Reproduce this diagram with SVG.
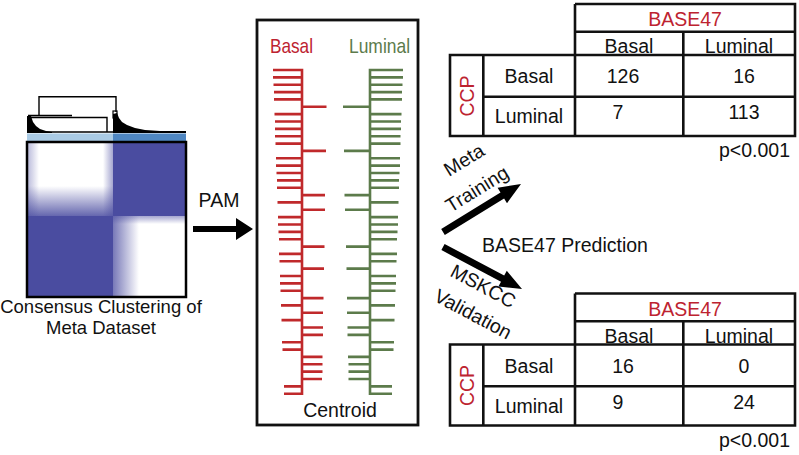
<svg xmlns="http://www.w3.org/2000/svg" width="799" height="455" viewBox="0 0 799 455">
<style>
text{font-family:"Liberation Sans",Arial,sans-serif;fill:#111}
.t{font-size:19.5px;text-anchor:middle}
.red{fill:#bd2330}
.grid{fill:none;stroke:#111;stroke-width:2.6}
.lad-r{fill:none;stroke:#c0292b;stroke-width:2.6}
.lad-g{fill:none;stroke:#5c7b4b;stroke-width:2.6}
.arrow{fill:#000}
.dend{fill:none;stroke:#000;stroke-width:1.4}
</style>
<defs>
<linearGradient id="fadeDown" x1="0" y1="0" x2="0" y2="1"><stop offset="0" stop-color="#4a4ca0" stop-opacity="0"/><stop offset="1" stop-color="#4a4ca0" stop-opacity="0.85"/></linearGradient>
<linearGradient id="fadeRight" x1="0" y1="0" x2="1" y2="0"><stop offset="0" stop-color="#4a4ca0" stop-opacity="0"/><stop offset="1" stop-color="#4a4ca0" stop-opacity="0.5"/></linearGradient>
<linearGradient id="fadeLeft" x1="0" y1="0" x2="1" y2="0"><stop offset="0" stop-color="#4a4ca0" stop-opacity="0.4"/><stop offset="1" stop-color="#4a4ca0" stop-opacity="0"/></linearGradient>
<linearGradient id="fadeLeftStrong" x1="0" y1="0" x2="1" y2="0"><stop offset="0" stop-color="#4a4ca0" stop-opacity="0.75"/><stop offset="1" stop-color="#4a4ca0" stop-opacity="0"/></linearGradient>
<linearGradient id="fadeTop" x1="0" y1="0" x2="0" y2="1"><stop offset="0" stop-color="#4a4ca0" stop-opacity="0.5"/><stop offset="1" stop-color="#4a4ca0" stop-opacity="0"/></linearGradient>
</defs>
<rect width="799" height="455" fill="#fff"/>

<g id="heatmap">
<path class="dend" d="M39 116V96.7H116V112"/>
<path class="dend" d="M28 117.5H107V132M28 115.5H72M27 132H186"/>
<rect x="113" y="111" width="4" height="7" fill="none" stroke="#000" stroke-width="1.2"/>
<path fill="#000" d="M27 133L27 116L31 116L33 122L36 126L40 129L46 131L52 132L52 133Z"/>
<path fill="#000" d="M113 133L113 114L117 113L119 118L122 122L127 125L135 128L145 130L160 131L186 131L186 133Z"/>
<rect x="27" y="133.5" width="86" height="7.5" fill="#aacbe5"/>
<rect x="113" y="133.5" width="73" height="7.5" fill="#4f87c2"/>
<rect x="27" y="142" width="159" height="155" fill="#4a4ca0"/>
<rect x="27" y="142" width="86" height="74" fill="#fff"/>
<rect x="27" y="186" width="86" height="30" fill="url(#fadeDown)"/>
<rect x="27" y="142" width="12" height="74" fill="url(#fadeLeft)"/>
<rect x="103" y="142" width="10" height="74" fill="url(#fadeRight)"/>
<rect x="113" y="216" width="73" height="81" fill="#fff"/>
<rect x="113" y="216" width="26" height="81" fill="url(#fadeLeftStrong)"/>
<rect x="113" y="216" width="73" height="8" fill="url(#fadeTop)"/>
<rect x="27" y="142" width="159" height="155" fill="none" stroke="#000" stroke-width="2.5"/>
<text class="t" x="101" y="313" font-size="18.5px" style="font-size:18.5px">Consensus Clustering of</text>
<text class="t" x="101" y="334" style="font-size:18.5px">Meta Dataset</text>
</g>

<g id="pam-label">
<text class="t" x="219" y="207">PAM</text>
</g>

<g id="centroid">
<rect x="257" y="20" width="161" height="405" fill="none" stroke="#111" stroke-width="2.8"/>
<text x="270" y="53" font-size="21" textLength="43" lengthAdjust="spacingAndGlyphs" class="red" style="fill:#bd2330">Basal</text>
<text x="349" y="53" font-size="21" textLength="61" lengthAdjust="spacingAndGlyphs" style="fill:#5c7b4b">Luminal</text>
<path class="lad-r" d="M302 68.7V395M273 70H302M273 77.4H302M273.5 84.7H302M274 92.1H302M274 99.4H302M302 106.8H326.5M274.5 114.1H302M275 121.5H302M275 128.9H302M275 136.2H302M275.5 143.6H302M302 150.9H326M276 158.3H302M276 165.6H302M276.5 173H302M277 180.4H302M277 187.7H302M302 195.1H325M277.5 202.4H302M302 209.8H325M278 217.1H302M278 224.5H302M278.5 231.9H302M279 239.2H302M302 246.6H324.5M279 253.9H302M279.5 261.3H302M302 268.6H324M280 276H302M280 283.4H302M280.5 290.7H302M302 298.1H323.5M281 305.4H302M302 312.8H323M281.5 320.1H302M302 327.5H323M302 334.9H323M282 342.2H302M282.5 349.6H302M302 356.9H322.5M302 364.3H322.5M302 371.6H322.5M302 379H322M284 386.4H302M284 393.7H302"/>
<path class="lad-g" d="M370 68.7V395M370 70H403M370 77.4H403M370 84.7H402.5M370 92.1H402M370 99.4H402M343 106.8H370M370 114.1H401.5M370 121.5H401M370 128.9H401M370 136.2H400.5M370 143.6H400.5M344 150.9H370M370 158.3H400M370 165.6H400M370 173H399.5M370 180.4H399M370 187.7H399M344.5 195.1H370M370 202.4H398.5M345 209.8H370M370 217.1H398M370 224.5H398M370 231.9H397.5M370 239.2H397M346 246.6H370M370 253.9H397M370 261.3H396.5M346.5 268.6H370M370 276H396M370 283.4H396M370 290.7H395.5M347 298.1H370M370 305.4H395M347 312.8H370M370 320.1H394.5M347.5 327.5H370M347.5 334.9H370M370 342.2H394M370 349.6H393.5M348 356.9H370M348.5 364.3H370M348.5 371.6H370M348.5 379H370M370 386.4H392M370 393.7H392"/>
<text class="t" x="340" y="417">Centroid</text>
</g>

<g id="table-meta">
<path class="grid" d="M575 4H795V136H450V55H795M575 4V55M575 31.7H795M683.3 31.7V136M483.3 55V136M575 55V136M483.3 96.7H795"/>
<text class="t red" x="685" y="26">BASE47</text>
<text class="t" x="629" y="53">Basal</text>
<text class="t" x="739" y="53">Luminal</text>
<text class="t red" transform="translate(473.5,96) rotate(-90)">CCP</text>
<text class="t" x="529" y="83">Basal</text>
<text class="t" x="623" y="83">126</text>
<text class="t" x="744" y="83">16</text>
<text class="t" x="529" y="123">Luminal</text>
<text class="t" x="618" y="119">7</text>
<text class="t" x="744" y="119">113</text>
<text x="790" y="157" font-size="19.5" text-anchor="end">p&lt;0.001</text>
</g>

<g id="table-mskcc">
<path class="grid" d="M575 293.5H795V425.5H450V344.5H795M575 293.5V344.5M575 321.2H795M683.3 321.2V425.5M483.3 344.5V425.5M575 344.5V425.5M483.3 386.2H795"/>
<text class="t red" x="685" y="315.5">BASE47</text>
<text class="t" x="629" y="342.5">Basal</text>
<text class="t" x="739" y="342.5">Luminal</text>
<text class="t red" transform="translate(473.5,385.5) rotate(-90)">CCP</text>
<text class="t" x="529" y="372.5">Basal</text>
<text class="t" x="623" y="372.5">16</text>
<text class="t" x="744" y="372.5">0</text>
<text class="t" x="529" y="412.5">Luminal</text>
<text class="t" x="618" y="408.5">9</text>
<text class="t" x="744" y="408.5">24</text>
<text x="790" y="446.5" font-size="19.5" text-anchor="end">p&lt;0.001</text>
</g>

<g id="connectors">
<polygon class="arrow" points="193,226 236,226 236,218 253,229 236,240 236,232 193,232"/>
<polygon class="arrow" points="441.2,229 500.5,192.5 497.6,187.8 521,184 507,203.2 504.1,198.5 444.8,235"/>
<polygon class="arrow" points="444.6,243.9 504.2,275.6 506.8,270.8 522,289 498.4,286.6 501,281.8 441.4,250.1"/>
<text class="t" transform="translate(467.5,165.7) rotate(-31.6)">Meta</text>
<text class="t" transform="translate(480.5,194.7) rotate(-31.6)">Training</text>
<text class="t" x="565" y="251.5">BASE47 Prediction</text>
<text class="t" transform="translate(480,292) rotate(28)">MSKCC</text>
<text class="t" transform="translate(470,320) rotate(28)">Validation</text>
</g>
</svg>
